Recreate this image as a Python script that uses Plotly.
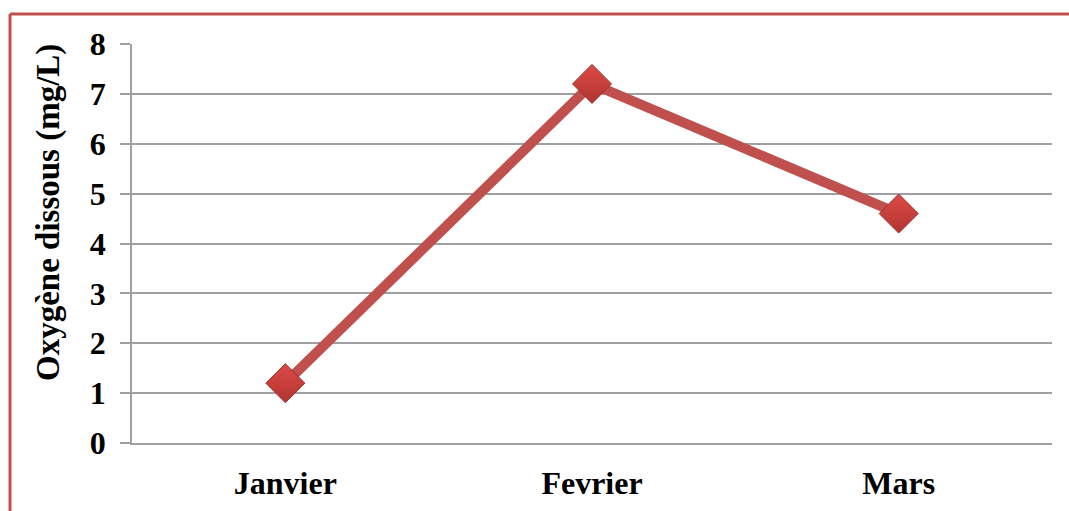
import plotly.graph_objects as go

months = ["Janvier", "Fevrier", "Mars"]
oxygen = [1.2, 7.2, 4.6]
y_ticks = [0, 1, 2, 3, 4, 5, 6, 7, 8]
y_title = "Oxygène dissous (mg/L)"

W, H = 1069, 511
L, R, T, B = 132, 17, 44, 68
pw, ph = W - L - R, H - T - B

fig = go.Figure()
fig.add_trace(go.Scatter(
    x=months, y=oxygen, mode="lines+markers",
    line=dict(color="#C0504D", width=10),
    marker=dict(symbol="diamond", size=30, color="#DC4A46",
                gradient=dict(type="vertical", color="#B23431"),
                line=dict(color="#9E2E2B", width=1)),
    showlegend=False,
))

def px_x(p):
    return (p - L) / pw

def px_y(p):
    return (H - B - p) / ph

fig.add_shape(type="line", xref="paper", yref="paper",
              x0=px_x(10), x1=px_x(W + 5), y0=px_y(14), y1=px_y(14),
              line=dict(color="#C0504D", width=3))
fig.add_shape(type="line", xref="paper", yref="paper",
              x0=px_x(10), x1=px_x(10), y0=px_y(14), y1=px_y(H + 5),
              line=dict(color="#C0504D", width=3))

font = "Liberation Serif, Times New Roman, serif"

fig.add_annotation(text=y_title, textangle=-90, showarrow=False,
                   xref="paper", yref="paper", x=px_x(48), y=px_y(213),
                   xanchor="center", yanchor="middle",
                   font=dict(size=33, family=font, weight="bold", color="black"))

fig.update_layout(
    width=W, height=H,
    margin=dict(l=L, r=R, t=T, b=B, autoexpand=False),
    paper_bgcolor="white", plot_bgcolor="white",
    font=dict(family=font, color="black"),
    xaxis=dict(type="category", showgrid=False, showline=True, automargin=False,
               linecolor="#A0A0A0", linewidth=1.5, zeroline=False,
               ticks="", ticklabelstandoff=11,
               tickfont=dict(size=32, family=font, weight="bold"),
               range=[-0.5, 2.5]),
    yaxis=dict(range=[0, 8], tickvals=y_ticks, ticktext=[str(v) for v in y_ticks],
               automargin=False,
               showgrid=True, gridcolor="#A0A0A0", gridwidth=1.5,
               showline=True, linecolor="#A0A0A0", linewidth=1.5,
               ticks="outside", ticklen=10, tickcolor="#A0A0A0", tickwidth=1.5,
               ticklabelstandoff=8,
               zeroline=False,
               tickfont=dict(size=32, family=font, weight="bold")),
)
fig.write_html("out.html")
